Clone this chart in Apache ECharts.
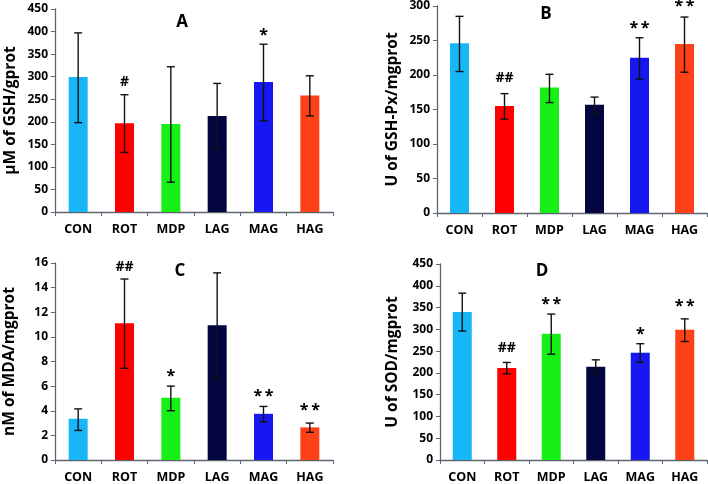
<!DOCTYPE html>
<html>
<head>
<meta charset="utf-8">
<script src="https://cdn.jsdelivr.net/npm/echarts@6/dist/echarts.min.js"></script>
<style>html,body{margin:0;padding:0;background:#fff}#c{width:708px;height:484px}</style>
</head>
<body>
<div id="c"></div>
<script>
const categories = ['CON', 'ROT', 'MDP', 'LAG', 'MAG', 'HAG'];
const barColors = ['#17b7f7', '#ff0000', '#16f016', '#03053f', '#1717f2', '#ff4117'];

// Panel A: GSH
const gshMean = [299, 197, 195, 213, 288, 258];
const gshLow  = [198, 132, 66, 139, 202, 213];
const gshHigh = [397, 260, 322, 285, 372, 302];
const gshMarks = ['', '#', '', '', '*', ''];
const gshMarkY = [0, 289, 0, 0, 398, 0];
const gshTicks = [0, 450, 50];

// Panel B: GSH-Px
const gpxMean = [246, 155, 182, 157, 225, 245];
const gpxLow  = [205, 136, 160, 143, 194, 204];
const gpxHigh = [285, 173, 201, 168, 254, 284];
const gpxMarks = ['', '##', '', '', '**', '**'];
const gpxMarkY = [0, 195, 0, 0, 272, 303];
const gpxTicks = [0, 300, 50];

// Panel C: MDA
const mdaMean = [3.35, 11.1, 5.05, 10.95, 3.75, 2.65];
const mdaLow  = [2.4, 7.45, 4.0, 6.65, 3.1, 2.25];
const mdaHigh = [4.15, 14.7, 6.0, 15.2, 4.35, 3.0];
const mdaMarks = ['', '##', '*', '', '**', '**'];
const mdaMarkY = [0, 15.7, 7.05, 0, 5.4, 4.3];
const mdaTicks = [0, 16, 2];

// Panel D: SOD
const sodMean = [340, 211, 290, 214, 246, 299];
const sodLow  = [296, 198, 243, 198, 224, 272];
const sodHigh = [383, 224, 335, 230, 267, 324];
const sodMarks = ['', '##', '**', '', '*', '**'];
const sodMarkY = [0, 256, 364, 0, 296, 360];
const sodTicks = [0, 450, 50];

const panelLetters = ['A', 'B', 'C', 'D'];
const yNames = ['µM of GSH/gprot', 'U of GSH-Px/mgprot', 'nM of MDA/mgprot', 'U of SOD/mgprot'];

const panels = [
  {mean: gshMean, low: gshLow, high: gshHigh, marks: gshMarks, markY: gshMarkY, ticks: gshTicks},
  {mean: gpxMean, low: gpxLow, high: gpxHigh, marks: gpxMarks, markY: gpxMarkY, ticks: gpxTicks},
  {mean: mdaMean, low: mdaLow, high: mdaHigh, marks: mdaMarks, markY: mdaMarkY, ticks: mdaTicks},
  {mean: sodMean, low: sodLow, high: sodHigh, marks: sodMarks, markY: sodMarkY, ticks: sodTicks}
];

const grids = [
  {left: 55, top: 9, width: 278, height: 203},
  {left: 437, top: 6, width: 270, height: 207},
  {left: 55, top: 263, width: 278, height: 198},
  {left: 440, top: 264, width: 267, height: 197}
];
const nameGaps = [36, 36, 37, 39];
const letterPos = [[182, 22], [546, 14], [180, 271], [542, 271]];

const FONT = '"Open Sans"';
const axisColor = '#5b6672';

const option = {
  animation: false,
  backgroundColor: '#fff',
  grid: grids,
  xAxis: grids.map((g, i) => ({
    type: 'category', gridIndex: i, data: categories,
    axisLine: {lineStyle: {color: axisColor, width: 1.3}},
    axisTick: {show: true, length: 4, lineStyle: {color: axisColor}},
    axisLabel: {color: '#000', fontFamily: FONT, fontWeight: 'bold', fontSize: 12.5, margin: 11}
  })),
  yAxis: grids.map((g, i) => ({
    type: 'value', gridIndex: i,
    min: panels[i].ticks[0], max: panels[i].ticks[1], interval: panels[i].ticks[2],
    name: yNames[i], nameLocation: 'middle', nameGap: nameGaps[i],
    nameTextStyle: {color: '#000', fontFamily: FONT, fontWeight: 'bold', fontSize: 15.5},
    axisLine: {show: true, lineStyle: {color: axisColor, width: 1.3}},
    axisTick: {show: true, length: 4, lineStyle: {color: axisColor}},
    splitLine: {show: false},
    axisLabel: {color: '#000', fontFamily: FONT, fontWeight: 'bold', fontSize: 12, margin: 7}
  })),
  graphic: panelLetters.map((t, i) => ({
    type: 'text', x: letterPos[i][0], y: letterPos[i][1],
    style: {text: t, font: 'bold 17px ' + FONT, fill: '#000', textAlign: 'center', textVerticalAlign: 'middle'}
  })),
  series: []
};

panels.forEach((p, i) => {
  const markData = p.marks.map((m, k) => [k, p.markY[k], m]).filter(d => d[2] !== '');
  option.series.push({
    type: 'bar', xAxisIndex: i, yAxisIndex: i, barWidth: 19,
    data: p.mean.map((v, k) => ({value: v, itemStyle: {color: barColors[k]}}))
  });
  option.series.push({
    type: 'custom', xAxisIndex: i, yAxisIndex: i, z: 5,
    data: p.mean.map((v, k) => [k, p.low[k], p.high[k]]),
    renderItem: function (params, api) {
      const lo = api.coord([api.value(0), api.value(1)]);
      const hi = api.coord([api.value(0), api.value(2)]);
      const hw = 4;
      const st = {stroke: '#111', lineWidth: 1.4};
      return {type: 'group', children: [
        {type: 'line', shape: {x1: lo[0], y1: lo[1], x2: hi[0], y2: hi[1]}, style: st},
        {type: 'line', shape: {x1: lo[0] - hw, y1: lo[1], x2: lo[0] + hw, y2: lo[1]}, style: st},
        {type: 'line', shape: {x1: hi[0] - hw, y1: hi[1], x2: hi[0] + hw, y2: hi[1]}, style: st}
      ]};
    }
  });
  option.series.push({
    type: 'custom', xAxisIndex: i, yAxisIndex: i, z: 6, clip: false,
    data: markData,
    renderItem: function (params, api) {
      const pt = api.coord([api.value(0), api.value(1)]);
      const txt = markData[params.dataIndex][2];
      const isStar = txt.indexOf('*') >= 0;
      const shown = isStar ? txt.split('').join('\u2009') : txt;
      return {type: 'text', x: pt[0], y: pt[1] + (isStar ? 3 : 0),
        style: {text: shown, font: 'bold ' + (isStar ? 16 : 14) + 'px ' + FONT, fill: '#000',
          textAlign: 'center', textVerticalAlign: 'middle'}};
    }
  });
});

const chart = echarts.init(document.getElementById('c'), null, {renderer: 'canvas'});
chart.setOption(option);
</script>
</body>
</html>
